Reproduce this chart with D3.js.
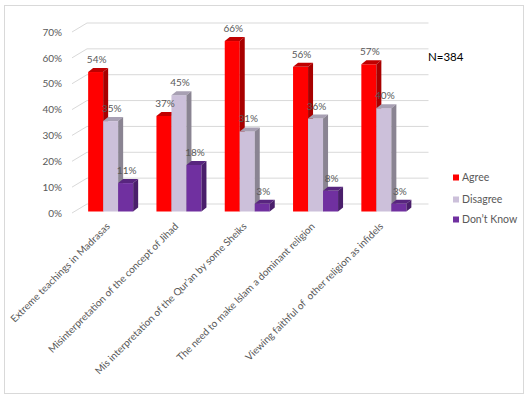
<!DOCTYPE html>
<html><head><meta charset="utf-8">
<script src="https://cdn.jsdelivr.net/npm/d3@7"></script>
<style>
html,body{margin:0;padding:0;background:#fff;}
svg{display:block;font-family:Lato,"Liberation Sans",sans-serif;}
</style></head>
<body><svg id="c" width="528" height="397"></svg>
<script>
const categories = ["Extreme teachings in Madrasas","Misinterpretation of the concept of Jihad","Mis interpretation of the Qur\u2019an by some Sheiks","The need to make Islam a dominant religion","Viewing faithful of  other religion as infidels"];
const seriesNames = ["Agree","Disagree","Don\u2019t Know"];
const agree = [54,37,66,56,57];
const disagree = [35,45,31,36,40];
const dontKnow = [11,18,3,8,3];
const yTicks = [0,10,20,30,40,50,60,70];
const note = "N=384";

const seriesValues = [agree, disagree, dontKnow];
const colors = [
  {front:"#FF0000", top:"#C00000", side:"#A80000"},
  {front:"#CCC0DA", top:"#A8A0B3", side:"#8A8492"},
  {front:"#7030A0", top:"#58257F", side:"#4A1F6B"}
];
const svg = d3.select("#c");
svg.append("rect").attr("x",4.5).attr("y",5.5).attr("width",519).attr("height",388)
  .attr("fill","#fff").attr("stroke","#D9D9D9");

const x0 = 72, W = 341.5, dX = 15, dY = -9;
const y = d3.scaleLinear().domain([0,70]).range([213,32]);
const yBar = d3.scaleLinear().domain([0,70]).range([211.5,30.7]);
const x = d3.scaleBand().domain(categories).range([76.5, 76.5+W]).paddingInner(0.341).paddingOuter(0.1705);
const xs = d3.scaleBand().domain(seriesNames).range([0, x.bandwidth()]);

// gridlines
const g = svg.append("g");
yTicks.forEach(t=>{
  const yy = y(t);
  g.append("path").attr("d",`M${x0},${yy}L${x0+dX},${yy+dY}L${x0+dX+W},${yy+dY}`)
    .attr("fill","none").attr("stroke","#D9D9D9").attr("stroke-width",1);
});
// y axis labels
const ax = svg.append("g").attr("transform",`translate(${x0-1},0)`)
  .call(d3.axisLeft(y).tickValues(yTicks).tickSize(0).tickPadding(9).tickFormat(d=>d+"%"));
ax.select(".domain").remove();
ax.selectAll("text").attr("fill","#595959").style("font-size","10px").style("font-family","Lato,'Liberation Sans',sans-serif");

// bars
const bd = 5, bh = -4;
const bars = svg.append("g");
categories.forEach((c,i)=>{
  seriesNames.forEach((s,j)=>{
    const v = seriesValues[j][i];
    const bx = x(c)+xs(s), w = xs.bandwidth();
    const top = yBar(v), bot = yBar(0);
    const col = colors[j];
    bars.append("rect").attr("x",bx).attr("y",top).attr("width",w).attr("height",bot-top).attr("fill",col.front);
    bars.append("path").attr("d",`M${bx},${top}L${bx+bd},${top+bh}L${bx+w+bd},${top+bh}L${bx+w},${top}Z`).attr("fill",col.top);
    bars.append("path").attr("d",`M${bx+w},${top}L${bx+w+bd},${top+bh}L${bx+w+bd},${bot+bh}L${bx+w},${bot}Z`).attr("fill",col.side);
  });
});
// value labels
categories.forEach((c,i)=>{
  seriesNames.forEach((s,j)=>{
    const v = seriesValues[j][i];
    svg.append("text").attr("x",x(c)+xs(s)+xs.bandwidth()/2+1).attr("y",yBar(v)-9)
      .attr("text-anchor","middle").attr("fill","#595959").style("font-size","10px").text(v+"%");
  });
});
// category labels
categories.forEach(c=>{
  const cx = x(c)+x.bandwidth()/2;
  svg.append("text").attr("transform",`translate(${cx},${227}) rotate(-45)`)
    .attr("text-anchor","end").attr("fill","#595959").style("font-size","10px")
    .attr("xml:space","preserve").style("white-space","pre").text(c);
});
// legend
const lg = svg.append("g");
seriesNames.forEach((s,j)=>{
  const ly = [177.5,199.5,219.5][j];
  lg.append("rect").attr("x",453).attr("y",ly-3).attr("width",6).attr("height",6).attr("fill",colors[j].front);
  lg.append("text").attr("x",462).attr("y",ly+3.5).attr("fill","#595959").style("font-size","10.5px").text(s);
});
svg.append("text").attr("x",428).attr("y",61).attr("fill","#000").style("font-size","11.5px").text(note);
</script></body></html>
